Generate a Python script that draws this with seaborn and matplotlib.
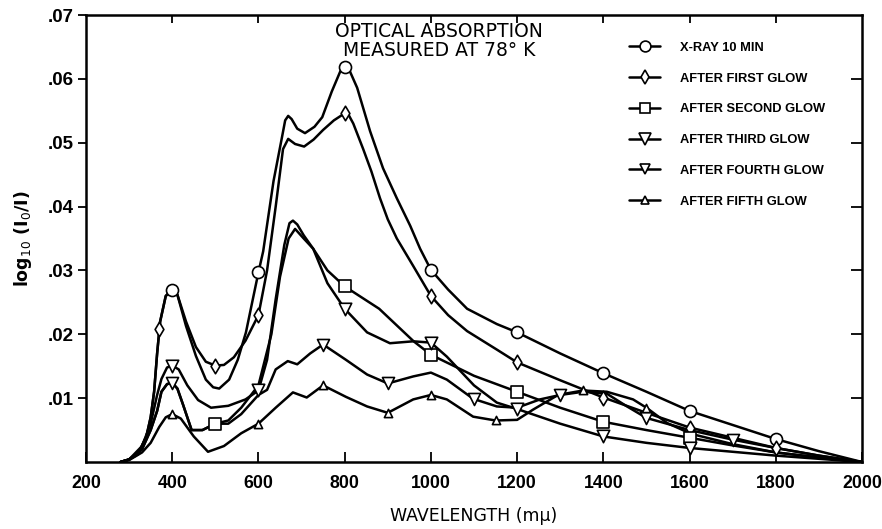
import numpy as np
import pandas as pd
import matplotlib
matplotlib.use("Agg")
import matplotlib.pyplot as plt
from matplotlib.lines import Line2D
import seaborn as sns

# ---------------- data ----------------
series_names = ["X-RAY 10 MIN", "AFTER FIRST GLOW", "AFTER SECOND GLOW",
                "AFTER THIRD GLOW", "AFTER FOURTH GLOW", "AFTER FIFTH GLOW"]

xray_wl = [280, 300, 320, 340, 350, 358, 365, 372, 385, 400, 412, 432, 455, 478, 495, 509,
           532, 552, 571, 587, 600, 611, 635, 655, 662, 669, 677, 690, 708, 730, 748, 770,
           790, 800, 812, 829, 859, 889, 921, 952, 975, 1000, 1040, 1084, 1153, 1200, 1300,
           1400, 1500, 1600, 1700, 1800, 1900, 2000]
xray_val = [0.0, 0.0004, 0.0012, 0.004, 0.007, 0.011, 0.017, 0.022, 0.026, 0.027, 0.0262,
            0.0213, 0.0166, 0.0129, 0.0117, 0.0115, 0.0129, 0.016, 0.0203, 0.0255, 0.0297,
            0.033, 0.044, 0.051, 0.0535, 0.0542, 0.0537, 0.0522, 0.0515, 0.0525, 0.054, 0.058,
            0.0612, 0.0618, 0.0612, 0.0586, 0.0518, 0.046, 0.0413, 0.037, 0.0334, 0.0301,
            0.027, 0.024, 0.0216, 0.0203, 0.017, 0.0139, 0.011, 0.008, 0.0058, 0.0036,
            0.0017, 0.0]
xray_mk_wl = [400, 600, 800, 1000, 1200, 1400, 1600, 1800]
xray_mk_val = [0.027, 0.0297, 0.0618, 0.0301, 0.0203, 0.0139, 0.008, 0.0036]

first_wl = [280, 300, 320, 340, 350, 358, 365, 372, 385, 400, 412, 432, 455, 478, 500, 520,
            543, 570, 600, 620, 640, 657, 669, 685, 706, 728, 750, 775, 800, 808, 820, 843,
            862, 882, 900, 921, 959, 1000, 1040, 1084, 1153, 1200, 1300, 1400, 1500, 1600,
            1700, 1800, 1900, 2000]
first_val = [0.0, 0.0004, 0.0012, 0.004, 0.007, 0.011, 0.017, 0.022, 0.026, 0.027, 0.0262,
             0.022, 0.018, 0.0157, 0.0151, 0.0152, 0.0164, 0.019, 0.023, 0.030, 0.040, 0.049,
             0.0506, 0.0498, 0.0494, 0.0505, 0.052, 0.0535, 0.0546, 0.0545, 0.053, 0.049,
             0.0455, 0.0413, 0.038, 0.035, 0.0307, 0.026, 0.023, 0.0205, 0.0176, 0.0156,
             0.0128, 0.0101, 0.0077, 0.0054, 0.0038, 0.0022, 0.001, 0.0]
first_mk_wl = [369, 500, 600, 800, 1000, 1200, 1400, 1600, 1800]
first_mk_val = [0.0209, 0.0151, 0.023, 0.0546, 0.026, 0.0156, 0.0101, 0.0054, 0.0022]

second_wl = [280, 300, 330, 350, 365, 375, 388, 400, 412, 425, 445, 470, 500, 530, 560, 600,
             630, 650, 670, 685, 705, 727, 760, 800, 880, 960, 1000, 1100, 1200, 1300, 1400,
             1500, 1600, 1700, 1800, 1900, 2000]
second_val = [0.0, 0.0004, 0.002, 0.005, 0.008, 0.011, 0.0122, 0.0124, 0.0115, 0.009, 0.005,
              0.005, 0.006, 0.0065, 0.0085, 0.012, 0.020, 0.029, 0.035, 0.0365, 0.035,
              0.0334, 0.030, 0.0275, 0.024, 0.0189, 0.0168, 0.0135, 0.011, 0.0085, 0.0063,
              0.005, 0.0038, 0.0026, 0.0015, 0.0007, 0.0]
second_mk_wl = [500, 800, 1000, 1200, 1400, 1600]
second_mk_val = [0.006, 0.0275, 0.0168, 0.011, 0.0063, 0.0038]

third_wl = [280, 300, 330, 350, 365, 375, 388, 400, 415, 435, 460, 490, 530, 570, 600, 620,
            640, 660, 672, 680, 690, 705, 727, 760, 800, 852, 905, 959, 1000, 1037, 1100,
            1153, 1200, 1300, 1400, 1500, 1600, 1700, 1800, 1900, 2000]
third_val = [0.0, 0.0004, 0.0025, 0.006, 0.0105, 0.013, 0.0148, 0.0151, 0.0145, 0.012, 0.0097,
             0.0085, 0.0088, 0.0098, 0.0112, 0.016, 0.0255, 0.034, 0.0374, 0.0378, 0.0372,
             0.0355, 0.0334, 0.028, 0.024, 0.0203, 0.0186, 0.0189, 0.0187, 0.0165, 0.012,
             0.0093, 0.0083, 0.006, 0.004, 0.003, 0.0022, 0.0016, 0.001, 0.0005, 0.0]
third_mk_wl = [400, 600, 800, 1000, 1200, 1400, 1600]
third_mk_val = [0.0151, 0.0112, 0.024, 0.0187, 0.0083, 0.004, 0.0022]

fourth_wl = [280, 300, 330, 350, 365, 375, 388, 400, 412, 425, 445, 470, 500, 530, 560, 600,
             620, 640, 668, 690, 720, 750, 803, 852, 900, 959, 1000, 1037, 1098, 1153, 1200,
             1253, 1300, 1353, 1408, 1455, 1500, 1600, 1700, 1800, 1900, 2000]
fourth_val = [0.0, 0.0004, 0.002, 0.005, 0.008, 0.011, 0.0122, 0.0124, 0.0115, 0.009, 0.005,
              0.005, 0.006, 0.006, 0.0075, 0.0105, 0.0113, 0.0145, 0.0158, 0.0153, 0.017,
              0.0184, 0.016, 0.0137, 0.0123, 0.0134, 0.014, 0.0129, 0.0099, 0.0087, 0.0085,
              0.0098, 0.0105, 0.011, 0.0107, 0.0087, 0.0069, 0.005, 0.0035, 0.0022, 0.001, 0.0]
fourth_mk_wl = [400, 750, 900, 1100, 1300, 1500, 1700]
fourth_mk_val = [0.0124, 0.0184, 0.0123, 0.0099, 0.0105, 0.0069, 0.0035]

fifth_wl = [280, 300, 330, 350, 370, 385, 400, 420, 450, 483, 520, 560, 600, 640, 680, 712,
            750, 803, 852, 900, 959, 1000, 1037, 1098, 1150, 1200, 1237, 1295, 1353, 1408,
            1469, 1500, 1548, 1604, 1700, 1800, 1900, 2000]
fifth_val = [0.0, 0.0003, 0.0015, 0.003, 0.0055, 0.007, 0.0075, 0.0068, 0.004, 0.0016,
             0.0025, 0.0045, 0.006, 0.0085, 0.0109, 0.0101, 0.012, 0.0102, 0.0087, 0.0077,
             0.0098, 0.0105, 0.0098, 0.0071, 0.0065, 0.0066, 0.0082, 0.0105, 0.0112, 0.011,
             0.0098, 0.0085, 0.0061, 0.0044, 0.0028, 0.0015, 0.0007, 0.0]
fifth_mk_wl = [400, 600, 750, 900, 1000, 1150, 1353, 1500]
fifth_mk_val = [0.0075, 0.006, 0.012, 0.0077, 0.0105, 0.0065, 0.0112, 0.0085]

x_ticks = [200, 400, 600, 800, 1000, 1200, 1400, 1600, 1800, 2000]
x_tick_labels = ["200", "400", "600", "800", "1000", "1200", "1400", "1600", "1800", "2000"]
y_ticks = [0.01, 0.02, 0.03, 0.04, 0.05, 0.06, 0.07]
y_tick_labels = [".01", ".02", ".03", ".04", ".05", ".06", ".07"]

# ---------------- figure ----------------
sns.set_theme(style="white")
plt.rcParams["font.family"] = ["DejaVu Sans"]
for k in ("text.color", "axes.labelcolor", "xtick.color", "ytick.color", "axes.edgecolor"):
    plt.rcParams[k] = "black"

LIB = ["Liberation Sans", "DejaVu Sans"]

fig = plt.figure(figsize=(8.82, 5.29), dpi=100)
ax = fig.add_axes([86 / 882, 1 - 462 / 529, 776 / 882, 447 / 529])

curves = [(xray_wl, xray_val), (first_wl, first_val), (second_wl, second_val),
          (third_wl, third_val), (fourth_wl, fourth_val), (fifth_wl, fifth_val)]
marks = [(xray_mk_wl, xray_mk_val), (first_mk_wl, first_mk_val),
         (second_mk_wl, second_mk_val), (third_mk_wl, third_mk_val),
         (fourth_mk_wl, fourth_mk_val), (fifth_mk_wl, fifth_mk_val)]
mstyles = ["o", "d", "s", "v", "v", "^"]
msizes = [75, 55, 65, 80, 75, 35]
LW = 1.8

for (wl, val), name in zip(curves, series_names):
    df = pd.DataFrame({"wl": wl, "val": val})
    sns.lineplot(data=df, x="wl", y="val", ax=ax, color="black", linewidth=LW,
                 sort=False, estimator=None, zorder=2)
for (wl, val), m, s in zip(marks, mstyles, msizes):
    df = pd.DataFrame({"wl": wl, "val": val})
    sns.scatterplot(data=df, x="wl", y="val", ax=ax, marker=m, s=s, facecolor="white",
                    edgecolor="black", linewidth=1.2, zorder=3)

ax.set_xlim(200, 2000)
ax.set_ylim(0, 0.07)
ax.set_xticks(x_ticks)
ax.set_xticklabels(x_tick_labels, fontsize=12.8, fontweight="bold", family=LIB)
ax.set_yticks(y_ticks)
ax.set_yticklabels(y_tick_labels, fontsize=13.5, fontweight="bold", family=LIB)
ax.tick_params(axis="y", direction="out", length=6, width=1.3, left=True, right=False, pad=3)
ax.tick_params(axis="x", direction="in", length=7, width=1.3, bottom=True, top=False, pad=9)

# ticks on top and right, pointing inward
ax_top = ax.secondary_xaxis("top")
ax_top.set_xticks([t for t in x_ticks if 200 < t < 2000])
ax_top.tick_params(axis="x", direction="in", length=6, width=1.3, labeltop=False)
ax_right = ax.secondary_yaxis("right")
ax_right.set_yticks([t for t in y_ticks if t < 0.07])
ax_right.tick_params(axis="y", direction="in", length=8, width=1.3, labelright=False)
for a in (ax_top, ax_right):
    a.spines[:].set_visible(False)

for sp in ax.spines.values():
    sp.set_visible(True)
    sp.set_color("black")
    sp.set_linewidth(1.8)

ax.set_xlabel("WAVELENGTH (m\u03bc)", fontsize=12.5, labelpad=11)
ax.set_ylabel("log$_{10}$ (I$_0$/I)", fontsize=12.5, labelpad=10, fontweight="bold")

ax.text(0.455, 0.985, "OPTICAL ABSORPTION\nMEASURED AT 78\u00b0 K", transform=ax.transAxes,
        ha="center", va="top", fontsize=13.5, linespacing=1.0)

handles = [Line2D([0], [0], color="black", linewidth=LW, marker=m,
                  markersize=(np.sqrt(s) * 0.9), markerfacecolor="white",
                  markeredgecolor="black", markeredgewidth=1.2)
           for m, s in zip(mstyles, msizes)]
ax.legend(handles, series_names, loc="upper left", bbox_to_anchor=(0.685, 0.966),
          frameon=False, handlelength=2.4, handletextpad=1.5, labelspacing=1.45,
          prop={"size": 9.3, "weight": "bold", "family": LIB})

fig.savefig("out.png", dpi=100, facecolor="white")
